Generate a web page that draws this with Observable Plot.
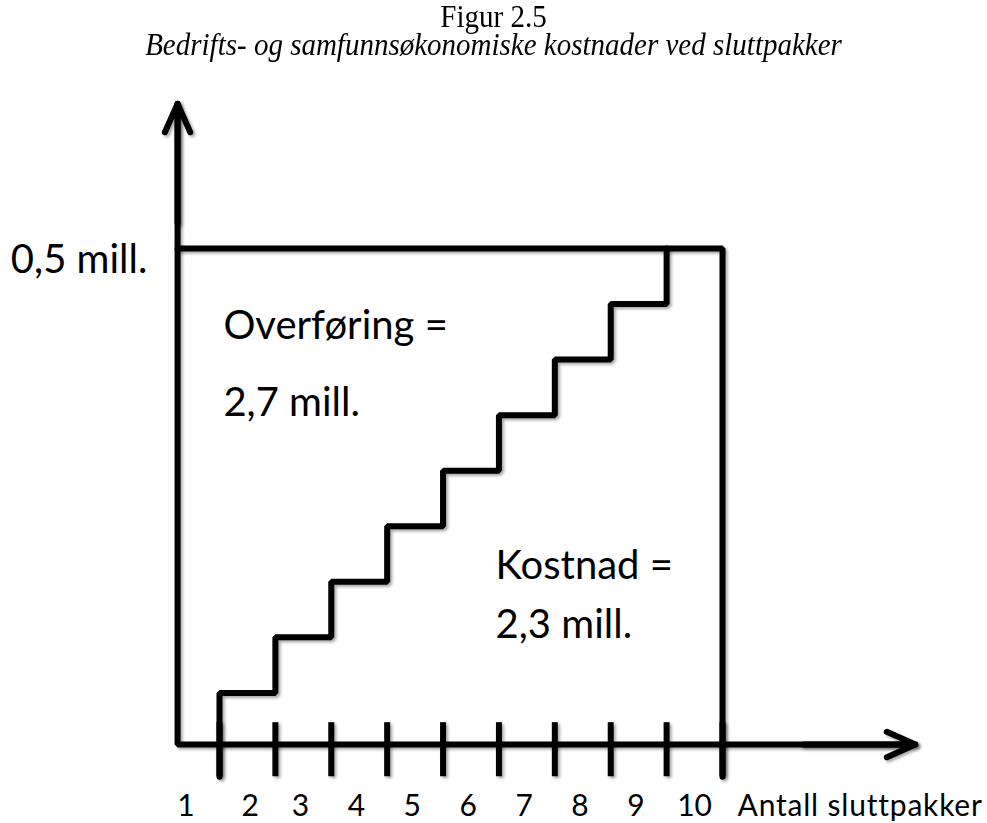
<!DOCTYPE html>
<html><head><meta charset="utf-8">
<script src="https://cdn.jsdelivr.net/npm/d3@7"></script>
<script src="https://cdn.jsdelivr.net/npm/@observablehq/plot@0.6"></script>
<style>
body{margin:0;background:#fff;width:987px;height:823px;overflow:hidden}
#head{height:64px;text-align:center;font-family:"Liberation Serif","Times New Roman",serif;color:#000;position:relative}
#head div{position:absolute;left:0;right:0;font-size:29px;line-height:21px;height:21px;transform:scaleY(1.12);transform-origin:50% 50%;white-space:nowrap}
#t1{top:6px}
#t2{top:34px;font-style:italic}
svg g[aria-label="line"], svg g[aria-label="rule"], svg g[aria-label="arrow"]{filter:drop-shadow(2px 2px 1.5px rgba(0,0,0,.35))}
</style></head><body>
<div id="head"><div id="t1">Figur 2.5</div><div id="t2">Bedrifts- og samfunnsøkonomiske kostnader ved sluttpakker</div></div>
<div id="chart"></div>
<script>
// Number of severance packages (risers of the staircase)
const packages = [1, 2, 3, 4, 5, 6, 7, 8, 9];
// Cost level (mill. kr) after each package
const stepLevels = [0.052, 0.108, 0.164, 0.22, 0.276, 0.332, 0.388, 0.444, 0.5];
// Payment per package (mill. kr)
const payment = 0.5;
const maxPackages = 10;
// Tick marks and tick labels on the x axis
const tickValues = [1, 2, 3, 4, 5, 6, 7, 8, 9, 10];
const tickLabels = ["1", "2", "3", "4", "5", "6", "7", "8", "9", "10"];
const tickLabelX = [0.4, 1.55, 2.45, 3.45, 4.45, 5.45, 6.45, 7.45, 8.45, 9.5];
const xAxisLabel = "Antall sluttpakker";
const yValueLabel = "0,5 mill.";
// Area annotations
const annoText = ["Overføring =", "2,7 mill.", "Kostnad =", "2,3 mill."];
const annoX = [1.07, 1.07, 5.94, 5.94];
const annoY = [0.422, 0.344, 0.180, 0.120];

const origin = 0.25;      // x where the value axis sits
const tickTop = 0.022, tickBottom = -0.0325;
const yTip = 0.646, xTip = 13.45;
const labelY = -0.0625;

// Staircase vertices
const stairs = [{x: packages[0], y: tickBottom}];
packages.forEach((p, i) => {
  stairs.push({x: p, y: stepLevels[i]});
  if (i < packages.length - 1) stairs.push({x: packages[i + 1], y: stepLevels[i]});
});
// Payment box (top line and right side)
const box = [{x: origin, y: payment}, {x: maxPackages, y: payment}, {x: maxPackages, y: tickBottom}];
// Axes as one polyline
const axes = [{x: origin, y: yTip}, {x: origin, y: 0}, {x: xTip, y: 0}];

const black = "#000";
const plot = Plot.plot({
  width: 987, height: 759,
  marginTop: 0, marginRight: 0, marginBottom: 0, marginLeft: 0,
  x: {domain: [0, 10], range: [163.1, 722], axis: null},
  y: {domain: [0, 0.5], range: [680, 184], axis: null},
  style: {fontFamily: "Lato, 'Open Sans', sans-serif", background: "white", color: black},
  marks: [
    Plot.line(axes, {x: "x", y: "y", stroke: black, strokeWidth: 6, strokeLinejoin: "miter"}),
    Plot.arrow([0], {x1: origin, y1: yTip - 0.12, x2: origin, y2: yTip, stroke: black, strokeWidth: 6, headAngle: 48, headLength: 7.8}),
    Plot.arrow([0], {x1: xTip - 2, y1: 0, x2: xTip, y2: 0, stroke: black, strokeWidth: 6, headAngle: 48, headLength: 7.8}),
    Plot.ruleX(tickValues, {x: d => d, y1: tickBottom, y2: tickTop, stroke: black, strokeWidth: 6}),
    Plot.line(box, {x: "x", y: "y", stroke: black, strokeWidth: 6, strokeLinejoin: "miter"}),
    Plot.line(stairs, {x: "x", y: "y", stroke: black, strokeWidth: 6, strokeLinejoin: "miter"}),
    Plot.text(tickLabels, {x: (d, i) => tickLabelX[i], y: labelY, text: d => d, fontSize: 30, fill: black}),
    Plot.text([xAxisLabel], {x: 10.27, y: labelY, text: d => d, fontSize: 30, textAnchor: "start", fill: black}),
    Plot.text([yValueLabel], {x: -0.29, y: 0.488, text: d => d, fontSize: 40, textAnchor: "end", fill: black}),
    Plot.text(annoText, {x: (d, i) => annoX[i], y: (d, i) => annoY[i], text: d => d, fontSize: 40, textAnchor: "start", fill: black})
  ]
});
document.getElementById("chart").appendChild(plot);
// slight letter spacing on the x axis title (Calibri-like width)
plot.querySelectorAll('g[aria-label="text"] text').forEach(t => {
  if (t.textContent === xAxisLabel) t.style.letterSpacing = "0.8px";
});
</script>
</body></html>
